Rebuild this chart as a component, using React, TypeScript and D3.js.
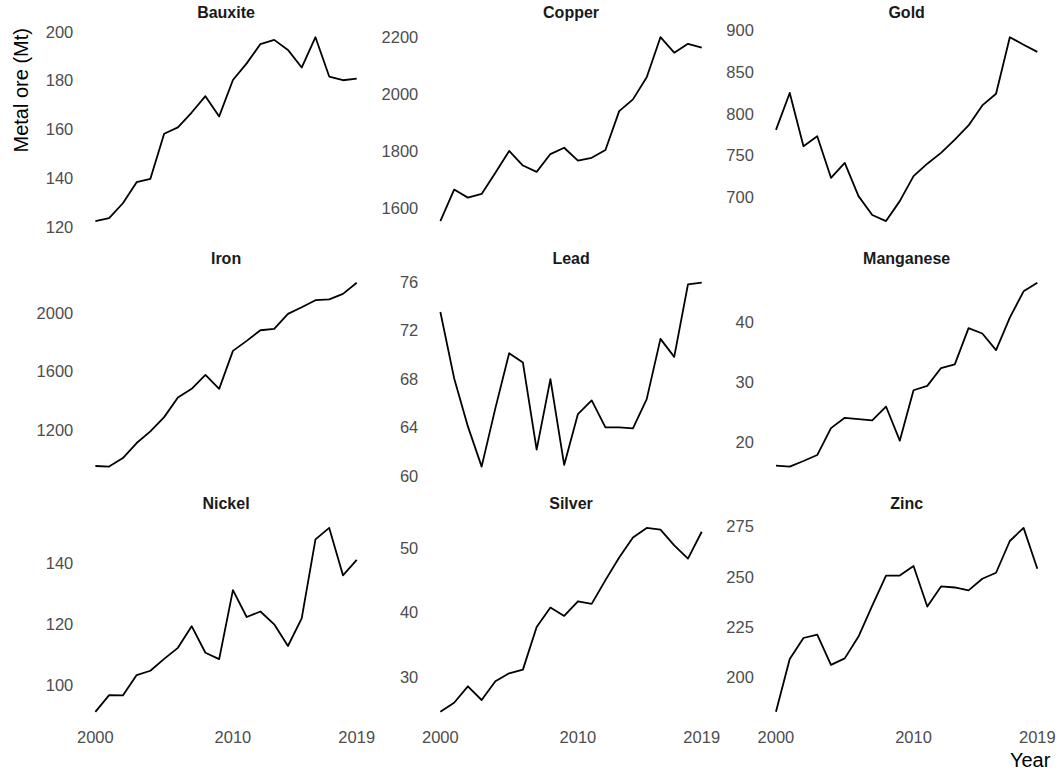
import * as d3 from "d3";
import * as React from "react";

// production by metal, Mt of ore, 2000-2019
const years = [2000, 2001, 2002, 2003, 2004, 2005, 2006, 2007, 2008, 2009,
    2010, 2011, 2012, 2013, 2014, 2015, 2016, 2017, 2018, 2019];

const metals = ["Bauxite", "Copper", "Gold", "Iron", "Lead", "Manganese", "Nickel", "Silver", "Zinc"];

const bauxite = [122.5, 123.7, 129.8, 138.4, 139.8, 158.2, 160.8, 166.9, 173.6, 165.3,
    180.2, 187.0, 194.9, 196.6, 192.5, 185.3, 197.7, 181.6, 180.1, 180.8];
const copper = [1556, 1666, 1638, 1651, 1725, 1801, 1750, 1728, 1790, 1812,
    1767, 1777, 1804, 1940, 1981, 2058, 2198, 2144, 2175, 2162];
const gold = [780.6, 825, 761, 773, 723, 741, 701, 678.4, 671, 695,
    725, 740, 753, 769, 786, 810, 824, 892, 883, 874.4];
const iron = [958, 954, 1012, 1114, 1193, 1290, 1424, 1482, 1577, 1482,
    1740, 1808, 1880, 1889, 1991, 2036, 2084, 2090, 2127, 2203];
const lead = [73.5, 68.04, 64.06, 60.74, 65.57, 70.1, 69.33, 62.14, 67.96, 60.88,
    65.08, 66.2, 63.98, 63.98, 63.9, 66.31, 71.28, 69.8, 75.78, 75.92];
const manganese = [16.14, 15.98, 16.91, 17.9, 22.37, 24.08, 23.86, 23.64, 25.95, 20.28,
    28.65, 29.37, 32.34, 32.95, 38.95, 38.07, 35.32, 40.7, 45.07, 46.5];
const nickel = [91.15, 96.6, 96.5, 103.2, 104.6, 108.5, 112.1, 119.2, 110.5, 108.4,
    131, 122.2, 124, 119.8, 112.7, 121.75, 147.65, 151.4, 135.85, 140.9];
const silver = [24.6, 26.0, 28.55, 26.43, 29.33, 30.57, 31.14, 37.75, 40.75, 39.46,
    41.73, 41.32, 45.0, 48.5, 51.6, 53.1, 52.84, 50.4, 48.35, 52.5];
const zinc = [183, 209.2, 219.6, 221.3, 206.3, 209.5, 220.3, 235.7, 250.5, 250.6,
    255.3, 235.2, 245.15, 244.65, 243.2, 249, 251.95, 267.7, 274.2, 253.9];

const series = [bauxite, copper, gold, iron, lead, manganese, nickel, silver, zinc];

const yTicks = [
    [120, 140, 160, 180, 200],
    [1600, 1800, 2000, 2200],
    [700, 750, 800, 850, 900],
    [1200, 1600, 2000],
    [60, 64, 68, 72, 76],
    [20, 30, 40],
    [100, 120, 140],
    [30, 40, 50],
    [200, 225, 250, 275],
];

const xTicks = [2000, 2010, 2019];

const width = 1059;
const height = 772;
const colLeft = [82.3, 427.3, 762.9];
const rowTop = [28, 273.5, 518.7];
const panelW = 287.5;
const panelH = 202.3;

const textGrey = "#4D4D4D";
const font = "Liberation Sans, Arial, sans-serif";

function expanded(values: number[]): [number, number] {
    const [lo, hi] = d3.extent(values) as [number, number];
    const pad = (hi - lo) * 0.05;
    return [lo - pad, hi + pad];
}

function Panel({ i }: { i: number }) {
    const col = i % 3;
    const row = Math.floor(i / 3);
    const left = colLeft[col];
    const top = rowTop[row];

    const x = d3.scaleLinear().domain(expanded(years)).range([left, left + panelW]);
    const y = d3.scaleLinear().domain(expanded(series[i])).range([top + panelH, top]);

    const line = d3.line<number>()
        .x((_, k) => x(years[k]))
        .y(v => y(v));

    return (
        <g>
            <text x={left + panelW / 2} y={top - 9.6} textAnchor="middle"
                fontSize={16} fontWeight="bold" fill="#1A1A1A">{metals[i]}</text>
            {yTicks[i].map(t => (
                <text key={t} x={left - 9} y={y(t)} dy="0.36em" textAnchor="end"
                    fontSize={16.5} fill={textGrey}>{t}</text>
            ))}
            {row === 2 && xTicks.map(t => (
                <text key={t} x={x(t)} y={top + panelH + 22.4} textAnchor="middle"
                    fontSize={16.5} fill={textGrey}>{t}</text>
            ))}
            <path d={line(series[i]) ?? ""} fill="none" stroke="#000" strokeWidth={1.8}
                strokeLinejoin="round" />
        </g>
    );
}

export default function App() {
    return (
        <svg width={width} height={height} fontFamily={font}
            style={{ position: "absolute", left: 0, top: 0, background: "#fff" }}>
            {metals.map((m, i) => <Panel key={m} i={i} />)}
            <text transform={`translate(27.5,${rowTop[0]}) rotate(-90)`} textAnchor="end"
                fontSize={20} fill="#000">Metal ore (Mt)</text>
            <text x={colLeft[2] + panelW} y={766.5} textAnchor="end"
                fontSize={20} fill="#000">Year</text>
        </svg>
    );
}
